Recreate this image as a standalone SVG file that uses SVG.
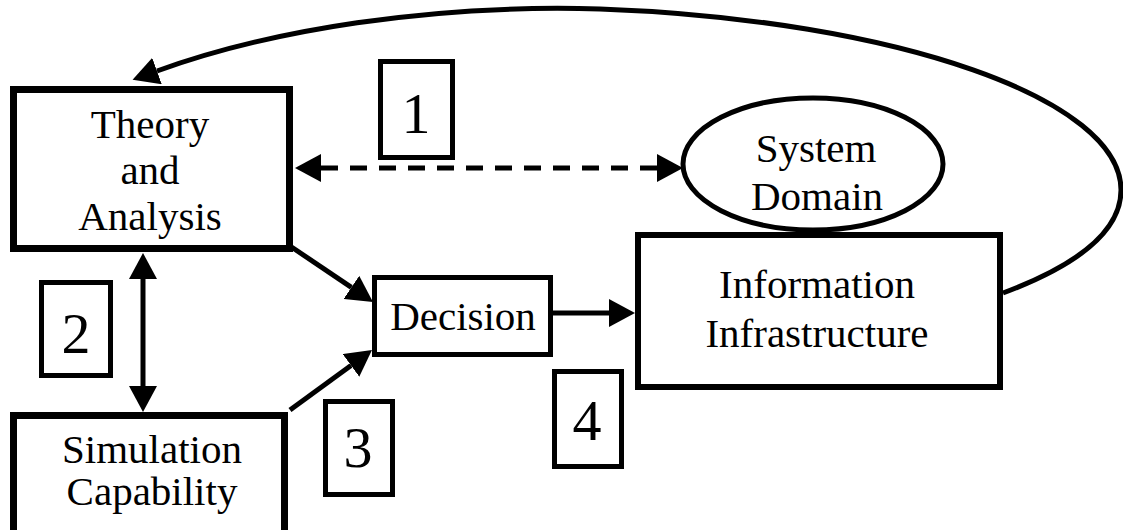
<svg xmlns="http://www.w3.org/2000/svg" width="1123" height="530" viewBox="0 0 1123 530">
  <defs>
    <marker id="head" markerUnits="userSpaceOnUse" viewBox="0 0 26 28" markerWidth="26" markerHeight="28" refX="0" refY="14" orient="auto-start-reverse">
      <path d="M0,0 L26,14 L0,28 z" fill="#000"/>
    </marker>
  </defs>
  <style>
    .box { fill: #fff; stroke: #000; }
    .lbl, .num { font-family: "Liberation Serif", "Times New Roman", Times, Tinos, "Noto Serif", "DejaVu Serif", FreeSerif, serif; fill: #000; text-anchor: middle; }
    .lbl { font-size: 41px; }
    .num { font-size: 58px; }
    .conn { fill: none; stroke: #000; stroke-width: 5; }
  </style>
  <rect width="1123" height="530" fill="#fff"/>

  <!-- connectors -->
  <g id="connectors">
    <!-- feedback loop from Information Infrastructure back to Theory and Analysis -->
    <path class="conn" d="M1003,293 C1070,268 1121,235 1121,190 C1121,100 900,20 600,9 C430,4 270,30 157,71" marker-end="url(#head)"/>
    <!-- Theory and Analysis <-> System Domain -->
    <line class="conn" x1="321" y1="168" x2="657" y2="168" stroke-width="6" stroke-dasharray="17 12" marker-start="url(#head)" marker-end="url(#head)"/>
    <!-- Theory and Analysis <-> Simulation Capability -->
    <line class="conn" x1="143" y1="279" x2="143" y2="386" marker-start="url(#head)" marker-end="url(#head)"/>
    <!-- Theory and Analysis -> Decision -->
    <line class="conn" x1="290" y1="246" x2="351.4" y2="287.4" stroke-width="6" marker-end="url(#head)"/>
    <!-- Simulation Capability -> Decision -->
    <line class="conn" x1="290" y1="410" x2="351" y2="365.4" stroke-width="6" marker-end="url(#head)"/>
    <!-- Decision -> Information Infrastructure -->
    <line class="conn" x1="553" y1="313" x2="609" y2="313" marker-end="url(#head)"/>
  </g>

  <g id="theory">
    <rect class="box" x="13.5" y="89.5" width="276" height="159" stroke-width="7"/>
    <text class="lbl" x="150" y="138">Theory</text>
    <text class="lbl" x="150" y="184">and</text>
    <text class="lbl" x="150" y="230">Analysis</text>
  </g>

  <g id="simulation">
    <rect class="box" x="13.5" y="415.5" width="271" height="130" stroke-width="7"/>
    <text class="lbl" x="152" y="463">Simulation</text>
    <text class="lbl" x="152" y="505">Capability</text>
  </g>

  <g id="system-domain">
    <ellipse class="box" cx="813" cy="164" rx="130" ry="66" stroke-width="5"/>
    <text class="lbl" x="816" y="162">System</text>
    <text class="lbl" x="817" y="210">Domain</text>
  </g>

  <g id="information">
    <rect class="box" x="638" y="235" width="362" height="152" stroke-width="6"/>
    <text class="lbl" x="817" y="298">Information</text>
    <text class="lbl" x="817" y="347">Infrastructure</text>
  </g>

  <g id="decision">
    <rect class="box" x="374.5" y="277.5" width="176" height="77" stroke-width="5"/>
    <text class="lbl" x="463" y="330">Decision</text>
  </g>

  <g id="tag1">
    <rect class="box" x="380.5" y="61.5" width="72" height="96" stroke-width="5"/>
    <text class="num" x="416" y="133">1</text>
  </g>
  <g id="tag2">
    <rect class="box" x="41.5" y="282.5" width="69" height="93" stroke-width="5"/>
    <text class="num" x="76" y="353">2</text>
  </g>
  <g id="tag3">
    <rect class="box" x="325.5" y="401.5" width="67" height="93" stroke-width="5"/>
    <text class="num" x="358" y="467">3</text>
  </g>
  <g id="tag4">
    <rect class="box" x="554.5" y="371.5" width="67" height="95" stroke-width="5"/>
    <text class="num" x="587" y="440">4</text>
  </g>
</svg>
